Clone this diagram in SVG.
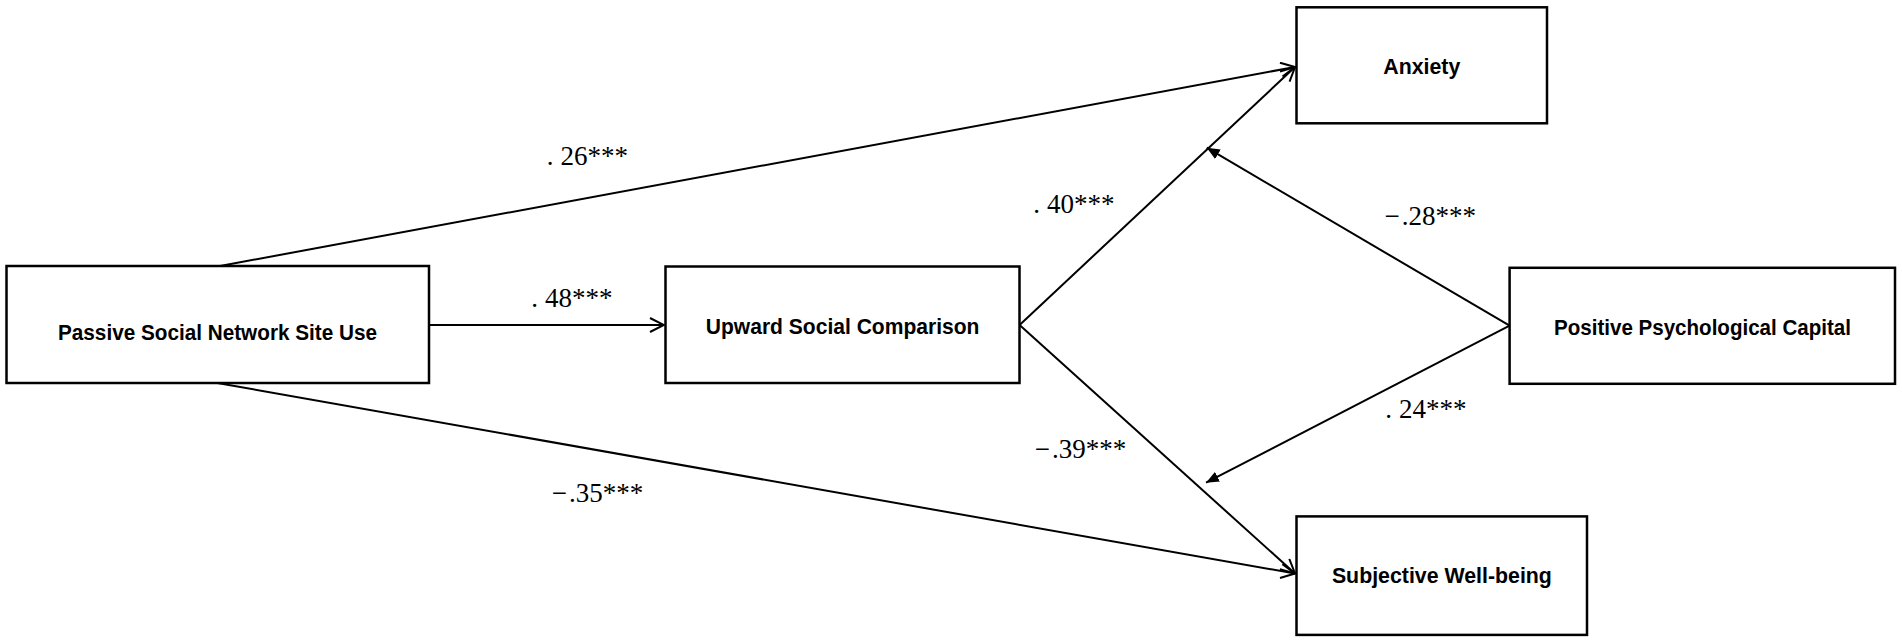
<svg xmlns="http://www.w3.org/2000/svg" width="1902" height="640" viewBox="0 0 1902 640">
<defs>
<style>
.box{fill:#fff;stroke:#000;stroke-width:2.5}
.lbl{font-family:"Liberation Sans",Arial,sans-serif;font-weight:bold;font-size:22px;fill:#000}
.coef{font-family:"Liberation Serif","Times New Roman",serif;font-size:27px;fill:#000}
.ln{stroke:#000;stroke-width:2;fill:none}
.open{marker-end:url(#openArrow)}
.fill{marker-end:url(#fillArrow)}
</style>
<marker id="openArrow" viewBox="0 0 16 16" refX="15" refY="8" markerWidth="16" markerHeight="16" markerUnits="userSpaceOnUse" orient="auto">
<path d="M1,1 L15,8 L1,15" fill="none" stroke="#000" stroke-width="2"/>
</marker>
<marker id="fillArrow" viewBox="0 0 13 11" refX="13" refY="5.5" markerWidth="13" markerHeight="11" markerUnits="userSpaceOnUse" orient="auto">
<path d="M0,0 L13,5.5 L0,11 Z" fill="#000"/>
</marker>
</defs>
<rect width="1902" height="640" fill="#fff"/>
<g id="connectors">
<line class="ln open" x1="217.4" y1="266.5" x2="1295" y2="67"/>
<line class="ln open" x1="429" y1="325" x2="664" y2="325"/>
<line class="ln open" x1="217.4" y1="383" x2="1295" y2="573.5"/>
<line class="ln open" x1="1019.6" y1="325" x2="1295" y2="67"/>
<line class="ln open" x1="1019.6" y1="325" x2="1295" y2="573.5"/>
<line class="ln fill" x1="1509.6" y1="325.7" x2="1206.7" y2="147.7"/>
<line class="ln fill" x1="1509.6" y1="325.7" x2="1206" y2="482.7"/>
</g>
<g id="labels">
<text class="coef" x="546.7" y="165">.<tspan dx="7">26***</tspan></text>
<text class="coef" x="531.2" y="307">.<tspan dx="7">48***</tspan></text>
<text class="coef" x="551.7" y="502.3">−<tspan dx="2">.35***</tspan></text>
<text class="coef" x="1033.3" y="213.3">.<tspan dx="7">40***</tspan></text>
<text class="coef" x="1034.8" y="458.4">−<tspan dx="2">.39***</tspan></text>
<text class="coef" x="1384.5" y="224.5">−<tspan dx="2">.28***</tspan></text>
<text class="coef" x="1385.2" y="418.4">.<tspan dx="7">24***</tspan></text>
</g>
<g id="node-passive">
<rect class="box" x="6.5" y="266" width="422.5" height="117"/>
<text class="lbl" x="58" y="340" textLength="319" lengthAdjust="spacingAndGlyphs">Passive Social Network Site Use</text>
</g>
<g id="node-upward">
<rect class="box" x="665.5" y="266.5" width="354" height="116.5"/>
<text class="lbl" x="705.8" y="334" textLength="273.6" lengthAdjust="spacingAndGlyphs">Upward Social Comparison</text>
</g>
<g id="node-anxiety">
<rect class="box" x="1296.5" y="7.3" width="250.5" height="116"/>
<text class="lbl" x="1383.3" y="74.3" textLength="77" lengthAdjust="spacingAndGlyphs">Anxiety</text>
</g>
<g id="node-capital">
<rect class="box" x="1509.6" y="267.8" width="385.4" height="116"/>
<text class="lbl" x="1554" y="334.7" textLength="297" lengthAdjust="spacingAndGlyphs">Positive Psychological Capital</text>
</g>
<g id="node-wellbeing">
<rect class="box" x="1296.5" y="516.4" width="290.5" height="118.5"/>
<text class="lbl" x="1331.9" y="583" textLength="220" lengthAdjust="spacingAndGlyphs">Subjective Well-being</text>
</g>
</svg>
